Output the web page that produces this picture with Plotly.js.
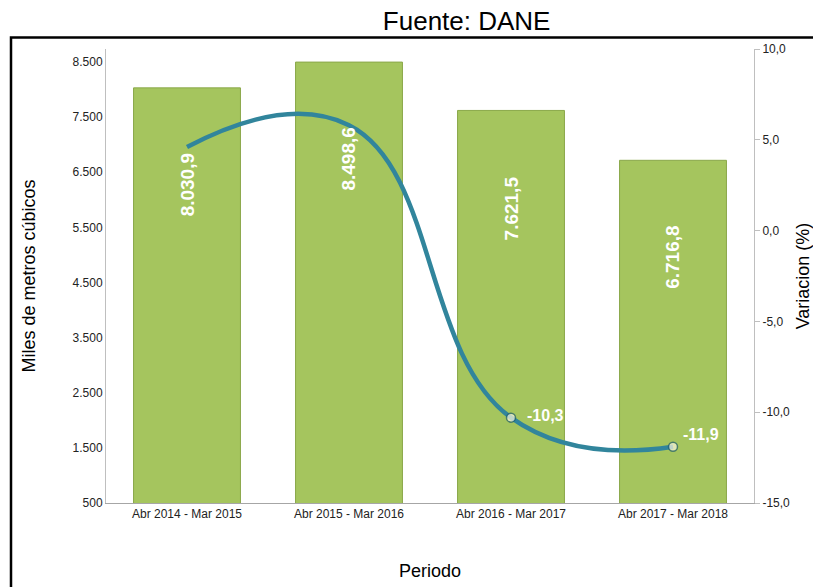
<!DOCTYPE html>
<html>
<head>
<meta charset="utf-8">
<script src="https://cdn.plot.ly/plotly-3.0.1.min.js"></script>
<style>html,body{margin:0;padding:0;background:#fff;}#chart{width:813px;height:587px;}</style>
</head>
<body>
<div id="chart"></div>
<script>
const categories = ["Abr 2014 - Mar 2015", "Abr 2015 - Mar 2016", "Abr 2016 - Mar 2017", "Abr 2017 - Mar 2018"];
const volumen = [8030.9, 8498.6, 7621.5, 6716.8];
const variacion = [4.6, 5.8, -10.3, -11.9];
const variacionLabels = ["", "", "-10,3", "-11,9"];
const leftTicks = [500, 1500, 2500, 3500, 4500, 5500, 6500, 7500, 8500];
const rightTicks = [-15, -10, -5, 0, 5, 10];

function fmt(v, dec) {
  const parts = v.toFixed(dec).split(".");
  parts[0] = parts[0].replace(/\B(?=(\d{3})+(?!\d))/g, ".");
  return parts.join(",");
}

const FONT = "Liberation Sans, Arial, sans-serif";

const bars = {
  type: "bar",
  x: categories,
  y: volumen,
  width: 0.66,
  marker: { color: "#A5C55E", line: { color: "#8AA84A", width: 1 } },
  hoverinfo: "skip",
  showlegend: false
};

const line = {
  type: "scatter",
  mode: "lines+markers",
  x: categories,
  y: variacion,
  yaxis: "y2",
  line: { color: "#31859C", width: 4.5, shape: "spline", smoothing: 1.3 },
  marker: { size: [0, 0, 9, 9], color: "#FBF6DC", line: { color: "#215E70", width: [0, 0, 1.5, 1.5] } },
  cliponaxis: false,
  showlegend: false
};

const barAnnotations = categories.map((c, i) => ({
  x: c, y: volumen[i], xref: "x", yref: "y",
  text: "<b>" + fmt(volumen[i], 1) + "</b>",
  textangle: -90, showarrow: false,
  yanchor: "top", yshift: -64,
  font: { family: FONT, size: 19, color: "#FFFFFF" }
}));

const lineShifts = [[0, 0], [0, 0], [14, 2], [8, 12]];
const lineAnnotations = categories.map((c, i) => ({
  x: c, y: variacion[i], xref: "x", yref: "y2",
  text: "<b>" + variacionLabels[i] + "</b>",
  showarrow: false, xanchor: "left", yanchor: "middle",
  xshift: lineShifts[i][0], yshift: lineShifts[i][1],
  font: { family: FONT, size: 16, color: "#FFFFFF" }
})).filter(a => a.text !== "<b></b>");

const layout = {
  width: 813, height: 587,
  margin: { l: 106, r: 59, t: 49, b: 84 },
  paper_bgcolor: "#FFFFFF", plot_bgcolor: "#FFFFFF",
  separators: ",.",
  font: { family: FONT, color: "#000" },
  title: {
    text: "Fuente: DANE", font: { family: FONT, size: 26, color: "#000" },
    x: 0.574, xref: "container", xanchor: "center",
    y: 0.964, yref: "container", yanchor: "middle"
  },
  xaxis: {
    type: "category",
    showline: true, linecolor: "#A6A6A6", linewidth: 1,
    ticks: "", showgrid: false,
    tickfont: { family: FONT, size: 12, color: "#222" },
    title: { text: "Periodo", font: { family: FONT, size: 18, color: "#000" }, standoff: 43 }
  },
  yaxis: {
    range: [500, 8736],
    tickvals: leftTicks,
    ticktext: leftTicks.map(v => fmt(v, 0)),
    showgrid: false, zeroline: false,
    showline: true, linecolor: "#BFBFBF", linewidth: 1,
    ticks: "", ticklen: 0,
    tickfont: { family: FONT, size: 12, color: "#222" },
    title: { text: "Miles de metros cúbicos", font: { family: FONT, size: 18, color: "#000" }, standoff: 32 }
  },
  yaxis2: {
    overlaying: "y", side: "right",
    range: [-15, 10],
    tickvals: rightTicks,
    ticktext: rightTicks.map(v => fmt(v, 1)),
    showgrid: false, zeroline: false,
    showline: true, linecolor: "#BFBFBF", linewidth: 1,
    ticks: "outside", ticklen: 5, tickcolor: "#BFBFBF",
    tickfont: { family: FONT, size: 12, color: "#222" },
    title: { text: "Variacion (%)", font: { family: FONT, size: 18, color: "#000" }, standoff: 16 }
  },
  shapes: [
    { type: "rect", xref: "paper", yref: "paper",
      x0: -0.1466, x1: 1.1, y0: -0.2, y1: 1.0253,
      line: { color: "#000", width: 2.5 }, fillcolor: "rgba(0,0,0,0)", layer: "below" }
  ],
  annotations: barAnnotations.concat(lineAnnotations)
};

Plotly.newPlot("chart", [bars, line], layout, { displayModeBar: false, staticPlot: true });
</script>
</body>
</html>
